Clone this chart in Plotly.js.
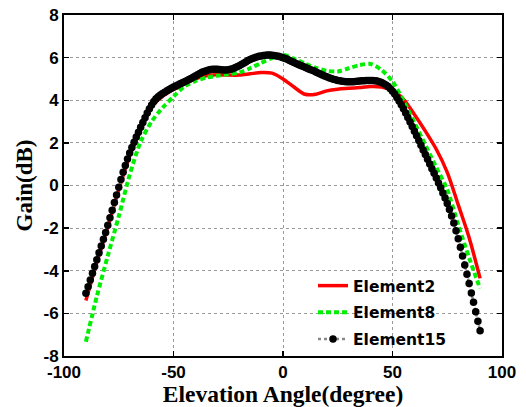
<!DOCTYPE html>
<html>
<head>
<meta charset="utf-8">
<script src="https://cdn.plot.ly/plotly-3.0.1.min.js"></script>
<style>html,body{margin:0;padding:0;background:#fff;}#chart{width:526px;height:407px;}</style>
</head>
<body>
<div id="chart"></div>
<script>
// Element15: sampled every 1 degree from -90 to 90
const e15Start = -90, e15Step = 1;
const element15 = [
  -5.06, -4.75, -4.43, -4.12, -3.8, -3.48, -3.16, -2.84, -2.52, -2.2,
  -1.86, -1.51, -1.16, -0.8, -0.44, -0.08, 0.28, 0.62, 0.94, 1.24,
  1.52, 1.78, 2.03, 2.27, 2.5, 2.73, 2.96, 3.18, 3.4, 3.6,
  3.78, 3.94, 4.07, 4.17, 4.25, 4.32, 4.38, 4.44, 4.5, 4.56,
  4.62, 4.67, 4.72, 4.77, 4.82, 4.87, 4.92, 4.97, 5.02, 5.08,
  5.14, 5.2, 5.26, 5.31, 5.35, 5.39, 5.42, 5.44, 5.45, 5.45,
  5.45, 5.44, 5.43, 5.42, 5.42, 5.43, 5.45, 5.48, 5.52, 5.57,
  5.62, 5.68, 5.74, 5.8, 5.86, 5.91, 5.96, 6.0, 6.03, 6.06,
  6.08, 6.1, 6.11, 6.12, 6.12, 6.11, 6.1, 6.08, 6.06, 6.03,
  6.0, 5.96, 5.92, 5.87, 5.82, 5.77, 5.72, 5.68, 5.63, 5.59,
  5.55, 5.5, 5.46, 5.42, 5.38, 5.33, 5.28, 5.23, 5.19, 5.14,
  5.1, 5.06, 5.02, 4.99, 4.96, 4.93, 4.91, 4.89, 4.88, 4.87,
  4.87, 4.87, 4.87, 4.88, 4.89, 4.9, 4.91, 4.92, 4.93, 4.93,
  4.93, 4.93, 4.92, 4.9, 4.87, 4.83, 4.78, 4.72, 4.64, 4.54,
  4.42, 4.29, 4.13, 3.97, 3.79, 3.6, 3.4, 3.19, 2.98, 2.77,
  2.55, 2.33, 2.11, 1.89, 1.67, 1.45, 1.23, 1.01, 0.79, 0.57,
  0.35, 0.12, -0.11, -0.35, -0.59, -0.85, -1.13, -1.43, -1.76, -2.12,
  -2.5, -2.9, -3.31, -3.73, -4.16, -4.6, -5.04, -5.48, -5.92, -6.37, -6.82
];

// Element2 and Element8: sampled every 5 degrees from -90 to 90
const e5Start = -90, e5Step = 5;
const element2 = [
  -5.4, -3.6, -1.95, -0.2, 1.4, 2.6, 3.68, 4.18, 4.5, 4.75,
  5.0, 5.15, 5.2, 5.18, 5.18, 5.24, 5.3, 5.27, 5.0, 4.62,
  4.28, 4.28, 4.44, 4.52, 4.56, 4.6, 4.64, 4.62, 4.45, 4.05,
  3.33, 2.55, 1.7, 0.62, -0.9, -2.45, -4.36
];
const element8 = [
  -7.33, -5.2, -3.3, -1.45, 0.5, 2.05, 3.0, 3.65, 4.17, 4.65,
  4.9, 5.06, 5.15, 5.22, 5.3, 5.5, 5.75, 5.98, 6.13, 5.95,
  5.72, 5.52, 5.38, 5.35, 5.5, 5.65, 5.7, 5.42, 4.88, 3.98,
  2.95, 1.9, 0.85, -0.2, -1.85, -3.4, -4.83
];

const xTicks = [-100, -50, 0, 50, 100];
const yTicks = [-8, -6, -4, -2, 0, 2, 4, 6, 8];
const seriesNames = ['Element2', 'Element8', 'Element15'];

const x15 = element15.map((_, i) => e15Start + i * e15Step);
const x5 = element2.map((_, i) => e5Start + i * e5Step);

const traces = [
  {x: x5, y: element2, name: seriesNames[0], mode: 'lines', legendgroup: 'a',
   line: {color: '#ff0000', width: 3.5, shape: 'spline', smoothing: 0.8}},
  {x: x5, y: element8, name: seriesNames[1], mode: 'lines', legendgroup: 'b',
   line: {color: '#00ee00', width: 4, dash: '5px,3px', shape: 'spline', smoothing: 0.8}},
  {x: x15, y: element15, name: seriesNames[2], mode: 'lines+markers', legendgroup: 'c',
   line: {color: '#888888', width: 2.5, dash: 'dot'},
   marker: {color: '#000000', size: 7.5, symbol: 'circle'}}
];

const axisBase = {
  showline: true, linecolor: '#000', linewidth: 2, mirror: 'ticks',
  ticks: 'inside', ticklen: 5, tickwidth: 1.5, tickcolor: '#000',
  showgrid: true, gridcolor: '#9a9a9a', griddash: 'dot', gridwidth: 1,
  zeroline: false,
  tickfont: {family: 'Liberation Sans, Arial, sans-serif', size: 17, color: '#000', weight: 'bold'}
};

const layout = {
  width: 526, height: 407,
  margin: {l: 64, r: 24, t: 15, b: 51},
  paper_bgcolor: '#fff', plot_bgcolor: '#fff',
  showlegend: true,
  xaxis: Object.assign({}, axisBase, {
    range: [-100, 100], tickvals: xTicks, ticktext: xTicks.map(String),
    title: {text: 'Elevation Angle(degree)', standoff: 4,
            font: {family: 'Liberation Serif, Times New Roman, serif', size: 23.5, color: '#000', weight: 'bold'}}
  }),
  yaxis: Object.assign({}, axisBase, {
    range: [-8, 8], tickvals: yTicks, ticktext: yTicks.map(String),
    title: {text: 'Gain(dB)', standoff: 4,
            font: {family: 'Liberation Serif, Times New Roman, serif', size: 23, color: '#000', weight: 'bold'}}
  }),
  legend: {
    x: 0.5685, y: 0.255, xanchor: 'left', yanchor: 'top',
    bgcolor: 'rgba(0,0,0,0)', borderwidth: 0, tracegroupgap: 3.5,
    font: {family: 'DejaVu Sans, sans-serif', size: 15.5, color: '#000', weight: 'bold'}
  }
};

Plotly.newPlot('chart', traces, layout, {displayModeBar: false, staticPlot: true});
</script>
</body>
</html>
